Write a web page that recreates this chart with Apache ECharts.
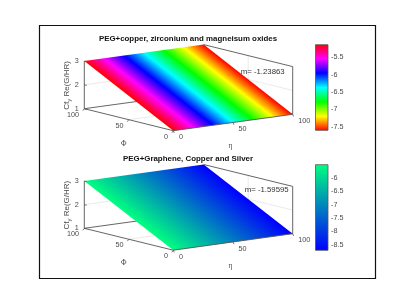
<!DOCTYPE html>
<html><head><meta charset="utf-8">
<style>html,body{margin:0;padding:0;background:#fff}#c{width:415px;height:305px;filter:blur(0.35px)}</style>
<script src="https://cdn.jsdelivr.net/npm/echarts@6/dist/echarts.min.js"></script>
</head><body><div id="c"></div>
<script>
// ---- data ----
const etaTicks = [0, 50, 100];
const phiTicks = [0, 50, 100];
const zTicks = [1, 2, 3];
// surface corners: [eta, phi, z]
const surfaceCorners = [[0, 0, 1], [100, 0, 1], [100, 100, 3], [0, 100, 3]];
const titleTop = 'PEG+copper, zirconium and magneisum oxides';
const titleBottom = 'PEG+Graphene, Copper and Silver';
const noteTop = 'm= -1.23863';
const noteBottom = 'm= -1.59595';
// value at eta=0 and eta=100, i.e. colour-bar limits
const rangeTop = [-5.137, -7.604];
const rangeBottom = [-5.50, -8.71];
const barTicksTop = [-5.5, -6, -6.5, -7, -7.5];
const barTicksBottom = [-6, -6.5, -7, -7.5, -8, -8.5];
const hsvColors = ['#ff0000', '#ff00ff', '#0000ff', '#00ffff', '#00ff00', '#ffff00', '#ff0000'];
const winterColors = ['#00ff80', '#0000ff'];

const INK = '#4a4a4a';
const stopsOf = cols => cols.map((c, i) => ({offset: i / (cols.length - 1), color: c}));

const chart = echarts.init(document.getElementById('c'), null, {renderer: 'canvas'});

function plot3d(cfg) {
  return function (params, api) {
    const P = (eta, phi, z) => api.coord([
      cfg.o[0] + eta / 100 * cfg.ex[0] + phi / 100 * cfg.ey[0],
      cfg.o[1] + eta / 100 * cfg.ex[1] + phi / 100 * cfg.ey[1] - (z - 1) * cfg.ez
    ]);
    const kids = [];
    const line = (a, b, color, w) => kids.push({type: 'line',
      shape: {x1: a[0], y1: a[1], x2: b[0], y2: b[1]},
      style: {stroke: color, lineWidth: w}});
    const text = (s, x, y, align, font, fill) => kids.push({type: 'text', x, y,
      style: {text: s, fill: fill || INK, font: font || '7.2px "Liberation Sans"', align, verticalAlign: 'middle'}});
    const GRID = '#e4e4e4';
    // wall and floor grid
    line(P(0, 100, 2), P(100, 100, 2), GRID, 0.8);
    line(P(100, 100, 2), P(100, 0, 2), GRID, 0.8);
    line(P(50, 100, 1), P(50, 100, 3), GRID, 0.8);
    line(P(100, 50, 1), P(100, 50, 3), GRID, 0.8);
    line(P(50, 0, 1), P(50, 100, 1), GRID, 0.8);
    line(P(0, 50, 1), P(100, 50, 1), GRID, 0.8);
    // box
    const BOX = '#555';
    line(P(0, 100, 1), P(100, 100, 1), BOX, 0.9);
    line(P(100, 100, 1), P(100, 0, 1), BOX, 0.9);
    line(P(100, 100, 3), P(100, 0, 3), BOX, 0.9);
    line(P(100, 0, 1), P(100, 0, 3), BOX, 0.9);
    // surface
    const pts = surfaceCorners.map(c => P(c[0], c[1], c[2]));
    const edge = [pts[3][0] - pts[0][0], pts[3][1] - pts[0][1]];
    const len = Math.hypot(edge[0], edge[1]);
    const n = [-edge[1] / len, edge[0] / len];
    const across = [pts[1][0] - pts[0][0], pts[1][1] - pts[0][1]];
    const d = across[0] * n[0] + across[1] * n[1];
    kids.push({type: 'polygon', shape: {points: pts},
      style: {fill: new echarts.graphic.LinearGradient(
        pts[0][0], pts[0][1], pts[0][0] + n[0] * d, pts[0][1] + n[1] * d,
        stopsOf(cfg.colors), true)}});
    // axes
    line(P(0, 100, 1), P(0, 0, 1), BOX, 0.9);
    line(P(0, 0, 1), P(100, 0, 1), BOX, 0.9);
    line(P(0, 100, 1), P(0, 100, 3), BOX, 0.9);
    etaTicks.forEach(t => {
      const p = P(t, 0, 1);
      line(p, [p[0] + 0.9, p[1] + 2.2], BOX, 0.8);
      text(String(t), p[0] + 5.6, p[1] + 6.6, 'left');
    });
    phiTicks.forEach(t => {
      const p = P(0, t, 1);
      line(p, [p[0] - 1.5, p[1] + 2], BOX, 0.8);
      text(String(t), p[0] - 5.4, p[1] + 6.2, 'right');
    });
    zTicks.forEach(t => {
      const p = P(0, 100, t);
      line(p, [p[0] + 2.5, p[1] + 0.6], BOX, 0.8);
      text(String(t), p[0] - 5.6, p[1], 'right');
    });
    const q0 = P(0, 0, 1), q1 = P(0, 100, 1), q2 = P(100, 0, 1);
    text('\u03A6', (q0[0] + q1[0]) / 2 - 5, (q0[1] + q1[1]) / 2 + 24, 'center', '7.5px "Liberation Serif"');
    text('\u03B7', (q0[0] + q2[0]) / 2 - 2.5, (q0[1] + q2[1]) / 2 + 24, 'center', '7.5px "Liberation Serif"');
    const mid = P(0, 100, 2);
    kids.push({type: 'text', x: mid[0] - 17.5, y: mid[1] + 0.5, rotation: Math.PI / 2,
      style: {text: '{a|Cf}{b|y}{a| Re(G/HR)}', align: 'center', verticalAlign: 'middle', fill: INK,
        rich: {a: {font: '8px "Liberation Sans"', fill: INK},
               b: {font: '6px "Liberation Sans"', fill: INK, padding: [5, 0, 0, 0]}}}});
    text(cfg.title, 188, cfg.titleY, 'center', 'bold 7.9px "Liberation Sans"', '#111');
    text(cfg.note, cfg.noteX, cfg.noteY, 'left', '7.8px "Liberation Sans"', '#333');
    return {type: 'group', children: kids};
  };
}

function barRender(colors, range) {
  return function (params, api) {
    const a = api.coord([0, range[0]]), b = api.coord([1, range[1]]);
    return {type: 'rect', shape: {x: a[0], y: a[1], width: b[0] - a[0], height: b[1] - a[1]},
      style: {fill: new echarts.graphic.LinearGradient(0, 0, 0, 1, stopsOf(colors)), stroke: '#555', lineWidth: 0.8}};
  };
}

function barAxis(idx, range, ticks) {
  return {gridIndex: idx, type: 'value', position: 'right', min: range[1], max: range[0],
    axisLine: {show: false}, splitLine: {show: false},
    axisTick: {show: true, inside: false, length: 1.5, customValues: ticks, lineStyle: {color: '#777', width: 0.6}},
    axisLabel: {show: true, customValues: ticks, color: INK, fontFamily: 'Liberation Sans', fontSize: 7.2, margin: 3}};
}
const hiddenX = i => ({gridIndex: i, type: 'value', min: 0, max: 1, show: false});

chart.setOption({
  animation: false,
  backgroundColor: '#fff',
  graphic: [{type: 'rect', shape: {x: 39.5, y: 25.5, width: 336, height: 253}, style: {fill: 'none', stroke: '#111', lineWidth: 1.2}, z: 0}],
  grid: [
    {left: 0, top: 0, width: 415, height: 305},
    {left: 315.5, width: 12.5, top: 44.7, height: 85.6},
    {left: 315.5, width: 12.5, top: 164.7, height: 85.6}
  ],
  xAxis: [{gridIndex: 0, type: 'value', min: 0, max: 415, show: false}, hiddenX(1), hiddenX(2)],
  yAxis: [{gridIndex: 0, type: 'value', min: 0, max: 305, inverse: true, show: false},
    barAxis(1, rangeTop, barTicksTop), barAxis(2, rangeBottom, barTicksBottom)],
  series: [
    {type: 'custom', xAxisIndex: 0, yAxisIndex: 0, clip: false, data: [0], renderItem: plot3d({
      o: [173.3, 130.7], ex: [119.4, -16.4], ey: [-89, -22], ez: 23.85, colors: hsvColors,
      title: titleTop, titleY: 39.3, note: noteTop, noteX: 240.7, noteY: 71.7})},
    {type: 'custom', xAxisIndex: 0, yAxisIndex: 0, clip: false, data: [0], renderItem: plot3d({
      o: [173.3, 250.2], ex: [119.4, -16.5], ey: [-89, -21.9], ez: 23.65, colors: winterColors,
      title: titleBottom, titleY: 159, note: noteBottom, noteX: 244.7, noteY: 189.7})},
    {type: 'custom', xAxisIndex: 1, yAxisIndex: 1, data: [0], renderItem: barRender(hsvColors, rangeTop)},
    {type: 'custom', xAxisIndex: 2, yAxisIndex: 2, data: [0], renderItem: barRender(winterColors, rangeBottom)}
  ]
});
</script></body></html>
